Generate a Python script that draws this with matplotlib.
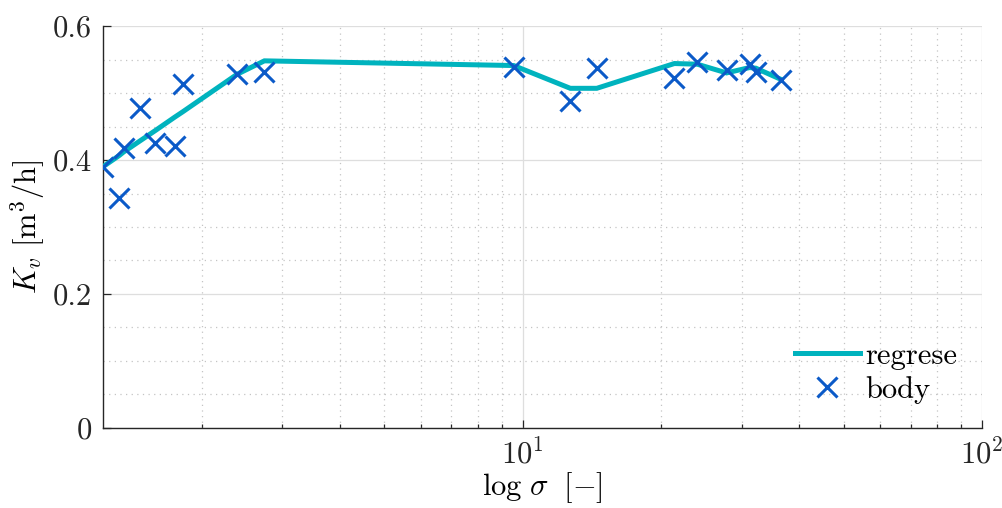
import matplotlib
matplotlib.use("Agg")
import matplotlib.pyplot as plt
from matplotlib.ticker import LogLocator, NullFormatter, FixedLocator, MultipleLocator, FuncFormatter

plt.rcParams["font.family"] = "serif"
plt.rcParams["font.serif"] = ["cmr10"]
plt.rcParams["mathtext.fontset"] = "cm"
plt.rcParams["axes.formatter.use_mathtext"] = True

# measured points (sigma, Kv)
sigma = [1.22, 1.325, 1.353, 1.472, 1.586, 1.748, 1.820, 2.39, 2.74,
         9.56, 12.7, 14.5, 21.4, 24.0, 27.8, 31.2, 32.2, 36.6]
kv_points = [0.390, 0.343, 0.418, 0.477, 0.425, 0.421, 0.514, 0.529, 0.532,
             0.539, 0.488, 0.538, 0.522, 0.547, 0.535, 0.543, 0.532, 0.520]
# regression curve evaluated at the same sigma values
kv_fit = [0.390, 0.407, 0.412, 0.429, 0.444, 0.464, 0.472, 0.528, 0.548,
          0.541, 0.507, 0.507, 0.544, 0.543, 0.530, 0.538, 0.537, 0.520]

y_ticks = [0, 0.2, 0.4, 0.6]

line_color = "#00B3BE"
marker_color = "#0B5AC8"

fig = plt.figure(figsize=(10.03, 5.08), dpi=100)
ax = fig.add_axes([0.1027, 0.1575, 0.8763, 0.7913])

ax.plot(sigma, kv_fit, color=line_color, lw=3.6, label="regrese", zorder=3,
        solid_joinstyle="miter")
ax.plot(sigma, kv_points, linestyle="none", marker="x", color=marker_color,
        markersize=14, markeredgewidth=2.2, label="body", zorder=4)

ax.set_xscale("log")
ax.set_xlim(sigma[0], 100)
ax.set_ylim(0, 0.6)

ax.xaxis.set_major_locator(LogLocator(base=10))
ax.xaxis.set_minor_locator(LogLocator(base=10, subs=range(2, 10)))
ax.xaxis.set_minor_formatter(NullFormatter())
ax.yaxis.set_major_locator(FixedLocator(y_ticks))
ax.yaxis.set_minor_locator(MultipleLocator(0.05))
ax.yaxis.set_major_formatter(FuncFormatter(lambda v, p: f"{v:g}"))

ax.grid(True, which="major", color="#dedede", lw=0.9, linestyle="-", zorder=0)
ax.grid(True, which="minor", color="#c4c4c4", lw=0.9, linestyle=(0, (1, 3.5)), zorder=0)
ax.set_axisbelow(True)

for s in ("top", "right"):
    ax.spines[s].set_visible(False)
for s in ("left", "bottom"):
    ax.spines[s].set_color("#262626")
    ax.spines[s].set_linewidth(1.0)

ax.tick_params(which="major", direction="in", length=5.5, width=0.9,
               colors="#262626", labelsize=22, pad=8)
ax.tick_params(axis="x", which="minor", direction="in", length=3, width=0.9,
               colors="#262626")
ax.tick_params(axis="y", which="minor", length=0)
ax.tick_params(axis="x", which="major", pad=8)

ax.set_xlabel(r"$\log\,\sigma\;\ [-]$", fontsize=22, labelpad=0)
ax.set_ylabel(r"$K_v\ [\mathrm{m}^3/\mathrm{h}]$", fontsize=22, labelpad=4)

ax.legend(loc="lower right", frameon=False, fontsize=22,
          bbox_to_anchor=(0.9863, 0.03), borderaxespad=0,
          handlelength=2.1, handletextpad=0.2, labelspacing=0.2)

fig.savefig("out.png", dpi=100)
